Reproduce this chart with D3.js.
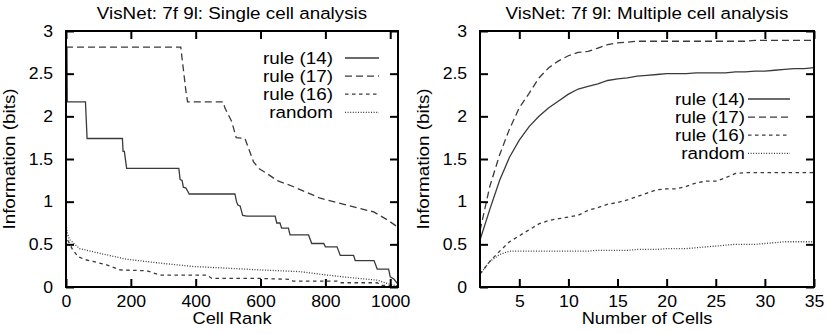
<!DOCTYPE html>
<html lang="en">
<head>
<meta charset="UTF-8">
<script src="https://cdn.jsdelivr.net/npm/d3@7"></script>
<style>
  body { margin: 0; background: #fff; }
  svg text { font-family: 'Liberation Sans', Arial, sans-serif; font-size: 16.5px; fill: #000; }
  svg text.axis-title { font-size: 16px; }
  .frame { fill: none; stroke: #000; stroke-width: 2px; }
  .tick line { stroke: #000; stroke-width: 2px; }
  .series { fill: none; stroke: #3a3a3a; stroke-width: 1.3px; }
</style>
<title>VisNet information analysis</title>
</head>
<body>
<svg id="chart" width="827" height="334"></svg>
<script>
// legend names, same order in both panels
const seriesNames = ["rule (14)", "rule (17)", "rule (16)", "random"];

// single cell analysis: [cell rank, information (bits)]
const single14 = [[0,2.81],[3,2.81],[4,2.17],[60,2.17],[62,2.0],[65,1.74],[174,1.74],[176,1.59],[180,1.59],[187,1.39],
  [348,1.39],[352,1.26],[358,1.25],[362,1.17],[370,1.16],[380,1.09],[521,1.09],[526,1.0],[530,0.96],[537,0.95],
  [545,0.84],[558,0.83],[645,0.83],[650,0.75],[660,0.75],[665,0.69],[686,0.69],[691,0.61],[748,0.61],[758,0.51],
  [795,0.51],[800,0.47],[836,0.47],[846,0.37],[887,0.37],[892,0.31],[950,0.31],[960,0.21],[995,0.21],[1000,0.12],
  [1012,0.09],[1024,0.03]];
const single17 = [[0,2.81],[354,2.81],[358,2.68],[370,2.29],[375,2.17],[485,2.17],[490,2.1],[511,1.94],[525,1.75],
  [552,1.74],[578,1.47],[594,1.39],[620,1.33],[650,1.25],[702,1.175],[784,1.04],[867,0.96],[949,0.88],[990,0.79],[1024,0.70]];
const single16 = [[0,0.63],[5,0.55],[11,0.51],[20,0.44],[37,0.355],[60,0.32],[83,0.30],[125,0.26],[166,0.20],[249,0.19],
  [290,0.14],[434,0.14],[450,0.10],[599,0.10],[691,0.09],[700,0.07],[836,0.07],[845,0.05],[960,0.05],[970,0.02],[1024,0.01]];
const singleRandom = [[0,0.76],[3,0.65],[10,0.56],[42,0.45],[104,0.395],[187,0.325],[290,0.28],[393,0.24],[500,0.22],
  [599,0.20],[722,0.18],[805,0.14],[877,0.11],[960,0.08],[1000,0.03],[1024,0.01]];

// multiple cell analysis: values for 1..35 cells
const numCells = d3.range(1, 36);
const multi14 = [0.55,0.91,1.25,1.52,1.72,1.88,2.0,2.1,2.18,2.26,2.32,2.35,2.38,2.42,2.44,2.45,2.47,2.48,2.49,2.50,
  2.50,2.50,2.51,2.51,2.51,2.51,2.52,2.52,2.53,2.53,2.54,2.55,2.56,2.56,2.57];
const multi17 = [0.66,1.18,1.55,1.85,2.1,2.27,2.45,2.57,2.65,2.71,2.75,2.76,2.8,2.84,2.86,2.87,2.88,2.88,2.88,2.88,
  2.88,2.88,2.88,2.88,2.88,2.88,2.88,2.88,2.89,2.89,2.89,2.89,2.89,2.89,2.89];
const multi16 = [0.15,0.3,0.42,0.53,0.6,0.67,0.74,0.78,0.8,0.82,0.84,0.9,0.93,0.97,0.99,1.02,1.06,1.1,1.14,1.15,
  1.15,1.18,1.22,1.24,1.24,1.28,1.33,1.34,1.34,1.34,1.34,1.34,1.34,1.34,1.34];
const multiRandom = [0.15,0.3,0.38,0.42,0.42,0.42,0.42,0.42,0.42,0.42,0.42,0.42,0.43,0.43,0.43,0.43,0.44,0.44,0.44,0.45,
  0.45,0.45,0.46,0.47,0.48,0.49,0.50,0.50,0.50,0.51,0.52,0.53,0.53,0.53,0.53];

const yTicks = [0, 0.5, 1, 1.5, 2, 2.5, 3];
const dashes = [null, "7,4", "3.5,3.5", "1,1.6"];
const textStretch = 1.14, tickStretch = 1.07;

const svg = d3.select("#chart");

// text helper, the reference glyphs are a bit wider than Helvetica
function label(g, x, y, str, anchor, rot) {
  return g.append("text")
    .attr("transform", `translate(${x},${y})` + (rot ? ` rotate(${rot})` : "") + ` scale(${textStretch},1)`)
    .attr("text-anchor", anchor)
    .text(str);
}

function drawPanel(p) {
  const x = d3.scaleLinear().domain(p.xDomain).range([p.left, p.right]);
  const y = d3.scaleLinear().domain([0, 3]).range([287, 31]);
  const g = svg.append("g");

  const line = d3.line().x(d => x(d[0])).y(d => y(d[1]));
  p.series.forEach((s, i) => {
    g.append("path")
      .datum(s)
      .attr("class", "series")
      .attr("stroke-dasharray", dashes[i])
      .attr("d", line);
  });

  const fmt = d3.format("~g");
  const clean = a => a.select(".domain").remove();

  g.append("g").attr("transform", "translate(0,287)")
    .call(d3.axisBottom(x).tickValues(p.xTicks).tickSize(-8).tickSizeOuter(0).tickPadding(8).tickFormat(fmt))
    .call(clean);
  g.append("g").attr("transform", "translate(0,31)")
    .call(d3.axisTop(x).tickValues(p.xTicks).tickSize(-8).tickSizeOuter(0).tickFormat(""))
    .call(clean);
  g.append("g").attr("transform", `translate(${p.left},0)`)
    .call(d3.axisLeft(y).tickValues(yTicks).tickSize(-8).tickSizeOuter(0).tickPadding(12).tickFormat(fmt))
    .call(clean);
  g.append("g").attr("transform", `translate(${p.right},0)`)
    .call(d3.axisRight(y).tickValues(yTicks).tickSize(-8).tickSizeOuter(0).tickFormat(""))
    .call(clean);

  g.selectAll(".tick text")
    .attr("font-family", null).attr("font-size", null).attr("fill", "#000")
    .attr("transform", `scale(${tickStretch},1)`);

  g.append("rect").attr("class", "frame")
    .attr("x", p.left).attr("y", 31)
    .attr("width", p.right - p.left).attr("height", 256);

  const cx = (p.left + p.right) / 2;
  label(g, cx, 18.5, p.title, "middle");
  label(g, cx, 324, p.xLabel, "middle").attr("class", "axis-title");
  label(g, p.left - 51, 159, "Information (bits)", "middle", -90);

  // legend
  seriesNames.forEach((name, i) => {
    const by = p.legend.y + i * 18.1;
    label(g, p.legend.x, by, name, "end");
    g.append("line")
      .attr("class", "series")
      .attr("x1", p.legend.x1).attr("x2", p.legend.x2)
      .attr("y1", by - 6).attr("y2", by - 6)
      .attr("stroke-dasharray", dashes[i]);
  });
}

drawPanel({
  title: "VisNet: 7f 9l: Single cell analysis",
  xLabel: "Cell Rank",
  xDomain: [0, 1024],
  xTicks: [0, 200, 400, 600, 800, 1000],
  left: 66, right: 398,
  series: [single14, single17, single16, singleRandom],
  legend: {x: 333, y: 64, x1: 345, x2: 379}
});

drawPanel({
  title: "VisNet: 7f 9l: Multiple cell analysis",
  xLabel: "Number of Cells",
  xDomain: [1, 35],
  xTicks: [5, 10, 15, 20, 25, 30, 35],
  left: 480, right: 814,
  series: [multi14, multi17, multi16, multiRandom].map(v => v.map((d, i) => [numCells[i], d])),
  legend: {x: 745, y: 105, x1: 748, x2: 790}
});
</script>
</body>
</html>
